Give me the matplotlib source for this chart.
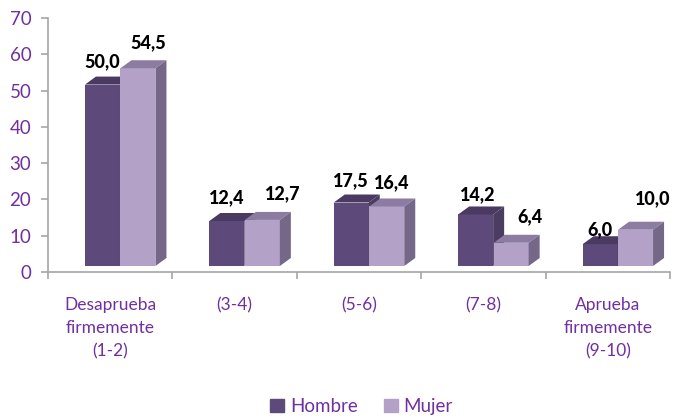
import numpy as np
import matplotlib.pyplot as plt
from matplotlib.patches import Patch

# datos de la grafica
categorias = ["Desaprueba\nfirmemente\n(1-2)", "(3-4)", "(5-6)", "(7-8)", "Aprueba\nfirmemente\n(9-10)"]
hombre = [50.0, 12.4, 17.5, 14.2, 6.0]
mujer = [54.5, 12.7, 16.4, 6.4, 10.0]
yticks = [0, 10, 20, 30, 40, 50, 60, 70]

# colores (frente, arriba, lado)
c_hombre = ("#5e4a7a", "#4a3a62", "#4b3c61")
c_mujer = ("#b3a1c8", "#8c7ca2", "#756787")
purpura = "#7030a0"

# desplazamiento de las etiquetas en pixeles (dx, dy sobre el frente)
lab_h = [(0, 23), (0, 23), (0, 22), (2, 20), (0, 15)]
lab_m = [(10, 26), (20, 26), (5, 24), (19, 26), (17, 31)]

plt.rcParams['font.family'] = ['Lato', 'DejaVu Sans']

W, H = 676, 419
fig = plt.figure(figsize=(W / 100, H / 100), dpi=100)
left, right, bottom, top = 48, 670, 272, 18
ax = fig.add_axes([left / W, (H - bottom) / H, (right - left) / W, (bottom - top) / H])
ax.set_xlim(-0.5, 4.5)
ax.set_ylim(0, 70)

pxx = (right - left) / 5.0
pxy = (bottom - top) / 70.0
base = 6 / pxy          # el frente de las barras esta un poco arriba del eje
ddx = 11 / pxx          # profundidad 3D
ddy = 8 / pxy
w = 35 / pxx

x = np.arange(len(categorias))


def barras3d(xc, vals, cols, z):
    ax.bar(xc, vals, width=w, bottom=base, color=cols[0], zorder=z, linewidth=0)
    for xi, v in zip(xc, vals):
        x0, x1 = xi - w / 2, xi + w / 2
        t = base + v
        ax.fill([x0, x1, x1 + ddx, x0 + ddx], [t, t, t + ddy, t + ddy],
                color=cols[1], zorder=z, linewidth=0)
        ax.fill([x1, x1 + ddx, x1 + ddx, x1], [base, base + ddy, t + ddy, t],
                color=cols[2], zorder=z, linewidth=0)


xh = x - 7.75 / pxx
xm = x + 27.75 / pxx
barras3d(xh, hombre, c_hombre, 2)
barras3d(xm, mujer, c_mujer, 3)

for xs, vals, offs in [(xh, hombre, lab_h), (xm, mujer, lab_m)]:
    for xi, v, (dx, dy) in zip(xs, vals, offs):
        ax.annotate(f"{v:.1f}".replace(".", ","), (xi, base + v), xytext=(dx * 0.72, dy * 0.72),
                    textcoords="offset points", ha="center", va="center",
                    fontsize=13, fontweight="black", color="black", zorder=5)

# ejes
for s in ["top", "right"]:
    ax.spines[s].set_visible(False)
for s in ["left", "bottom"]:
    ax.spines[s].set_color("#a6a6a6")
    ax.spines[s].set_linewidth(1.2)

ax.set_yticks(yticks)
ax.tick_params(axis="y", colors="#a6a6a6", length=5, width=1.2, labelsize=13.5,
               labelcolor=purpura, pad=7)
ax.set_xticks(x)
ax.set_xticklabels(categorias, fontsize=12.5, color=purpura, linespacing=1.55)
ax.tick_params(axis="x", length=0, pad=18)
ax.set_xticks(np.arange(-0.5, 5, 1), minor=True)
ax.tick_params(axis="x", which="minor", length=5, width=1.2, colors="#a6a6a6")

handles = [Patch(color=c_hombre[0], label="Hombre"), Patch(color=c_mujer[0], label="Mujer")]
leg = fig.legend(handles=handles, loc="center", bbox_to_anchor=(0.535, 0.03), ncol=2,
                 frameon=False, fontsize=13.5, handlelength=0.75, handleheight=0.75,
                 handletextpad=0.3, columnspacing=1.4)
for t in leg.get_texts():
    t.set_color(purpura)

fig.savefig("out.png", dpi=100)
